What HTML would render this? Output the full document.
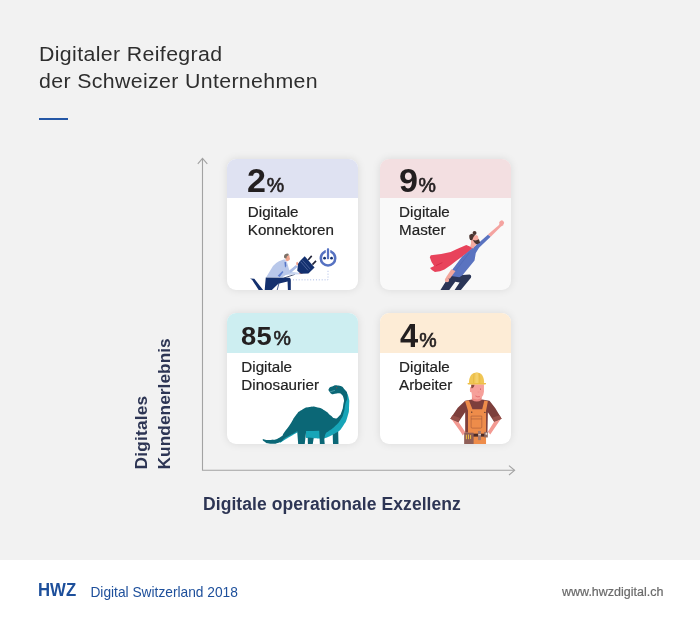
<!DOCTYPE html>
<html lang="de">
<head>
<meta charset="utf-8">
<title>Digitaler Reifegrad der Schweizer Unternehmen</title>
<style>
html,body{margin:0;padding:0;}
body{width:700px;height:629px;overflow:hidden;background:#f2f2f2;font-family:"Liberation Sans",Arial,sans-serif;position:relative;color:#222;}
.abs{position:absolute;white-space:nowrap;}
.title{left:39px;top:39.55px;font-size:20.5px;line-height:27.5px;color:#2e2e2e;transform-origin:0 0;transform:scaleX(1.04);}
.rule{left:39px;top:118px;width:29px;height:2px;background:#2457a6;}
.card{position:absolute;width:131px;height:131px;border-radius:9px;background:#fff;box-shadow:0 0 8px rgba(0,0,0,0.1);overflow:hidden;}
.card .hd{position:absolute;left:0;top:0;right:0;height:39.5px;}
.card .num{position:absolute;top:3.95px;font-weight:bold;font-size:33px;line-height:36px;color:#231f20;white-space:nowrap;}
.card .num .d{display:inline-block;transform-origin:0 100%;transform:scaleX(1.033);}
.card .num .pc{display:inline-block;font-weight:normal;font-size:19.6px;margin-left:1.1px;-webkit-text-stroke:0.6px #231f20;transform-origin:0 100%;transform:scaleX(1.0);}
.card .lbl{position:absolute;top:44.6px;font-size:15.2px;line-height:18px;color:#222;-webkit-text-stroke:0.2px #222;white-space:nowrap;}
.card svg{position:absolute;left:0;top:0;}
.ylab{left:0;top:0;font-weight:bold;font-size:17.3px;line-height:20px;color:#2d3554;transform-origin:0 0;}
.xlab{left:203px;top:493px;font-weight:bold;font-size:17.5px;line-height:22px;color:#2d3554;letter-spacing:0.07px;}
.footer{left:0;top:560px;width:700px;height:69px;background:#fff;}
.hwz{left:37.9px;top:579.4px;font-weight:bold;font-size:18px;line-height:22px;color:#1d4f9b;transform-origin:0 50%;transform:scaleX(0.93);}
.ds{left:90.4px;top:583.8px;font-size:13.75px;line-height:18px;color:#1d4f9b;}
.url{left:562px;top:582.9px;font-size:12.5px;line-height:18px;color:#6a6a6a;-webkit-text-stroke:0.2px #6a6a6a;}
</style>
</head>
<body>
<div class="abs title"><span style="letter-spacing:0.35px">Digitaler Reifegrad</span><br><span style="letter-spacing:0.34px">der Schweizer Unternehmen</span></div>
<div class="abs rule"></div>

<svg class="abs" style="left:0;top:0" width="700" height="560" viewBox="0 0 700 560">
  <g fill="none" stroke="#a3a3a3" stroke-width="1.1">
    <path d="M202.5 158.6V470.3H514.2"/>
    <path d="M197.8 163.9L202.5 158.4L207.3 163.9"/>
    <path d="M509 465.6L514.6 470.3L509 475"/>
  </g>
</svg>

<div class="card" style="left:227.3px;top:158.6px;">
  <div class="hd" style="background:#dfe2f2"></div>
  <div class="num" style="left:19.9px"><span class="d">2</span><span class="pc">%</span></div>
  <div class="lbl" style="left:20.5px">Digitale<br>Konnektoren</div>
<!--ILL1-->
  <svg width="131" height="131" viewBox="227.3 158.6 131 131">
    <g transform="translate(245,245) scale(0.085714)">
      <!-- back foot -->
      <path d="M62 385L112 388L218 525L166 525L86 402Z" fill="#14306e"/>
      <!-- cable -->
      <path d="M585 338L455 382" stroke="#1b2a55" stroke-width="9" fill="none"/>
      <path d="M400 440L378 525" stroke="#14306e" stroke-width="9" fill="none"/>
      <!-- lower arm (far) -->
      <path d="M470 300L640 318L655 336L470 345Z" fill="#c9d6f0"/>
      <!-- torso -->
      <path d="M252 368L330 240Q360 205 400 185L462 163L492 190L512 262L522 292L598 233L617 250L535 322L480 345L440 372Z" fill="#b9c8ea"/>
      <!-- upper arm highlight -->
      <path d="M522 292L598 233L617 250L535 322Z" fill="#a9bbe4"/>
      <!-- shade under arm -->
      <path d="M385 355L440 298L452 310L408 368Z" fill="#5f7fd0"/>
      <!-- tie -->
      <path d="M464 195L480 193L486 240L470 262Z" fill="#5474c6"/>
      <!-- hands -->
      <ellipse cx="612" cy="212" rx="11" ry="22" fill="#f0a08c"/>
      <ellipse cx="655" cy="325" rx="22" ry="10" fill="#f0a08c"/>
      <!-- neck + face -->
      <path d="M478 128L520 113L524 140L530 160L522 170L502 186L476 176Z" fill="#f0a58e"/>
      <!-- hair -->
      <path d="M458 138Q455 105 485 97Q505 92 514 100L510 118L492 128L486 152L466 150Z" fill="#7d7268"/>
      <!-- pants -->
      <path d="M246 375L520 378Q538 382 538 402L538 525L504 525L500 422L392 446L312 525L233 525L240 440Z" fill="#14306e"/>
    </g>
    <g transform="translate(290,240) scale(0.085714)">
      <!-- prongs -->
      <path d="M215 228L257 181" stroke="#23253a" stroke-width="19" fill="none"/>
      <path d="M265 283L307 239" stroke="#23253a" stroke-width="19" fill="none"/>
      <!-- plug body -->
      <path d="M175 185L290 315L218 385L130 388L88 355L98 272L120 240Z" fill="#13306f"/>
      <path d="M128 248L214 350M150 232L236 332" stroke="#8c9bc9" stroke-width="5" fill="none"/>
      <!-- dotted path -->
      <path d="M447 355V460H38" stroke="#9fb1e2" stroke-width="11" stroke-dasharray="11 22.5" fill="none"/>
      <!-- power icon -->
      <circle cx="447" cy="208" r="84" fill="none" stroke="#5672c2" stroke-width="30"/>
      <rect x="421" y="90" width="52" height="70" fill="#fff"/>
      <rect x="434" y="92" width="26" height="127" rx="9" fill="#5672c2"/>
      <circle cx="407" cy="208" r="16" fill="#13306f"/>
      <circle cx="488" cy="208" r="16" fill="#13306f"/>
    </g>
  </svg>
<!--/ILL1-->
</div>

<div class="card" style="left:380.1px;top:158.6px;background:#f9f9f9">
  <div class="hd" style="background:#f3dfe1"></div>
  <div class="num" style="left:19px"><span class="d">9</span><span class="pc">%</span></div>
  <div class="lbl" style="left:19px">Digitale<br>Master</div>
<!--ILL2-->
  <svg width="131" height="131" viewBox="380.1 158.6 131 131">
    <g transform="translate(425,215) scale(0.12857)">
      <!-- cape -->
      <path d="M372 252L322 231Q250 262 200 284Q120 305 46 309L38 326Q48 365 72 394L40 410Q55 432 78 441Q120 435 152 420Q200 390 242 354L342 282Z" fill="#e8435b"/>
      <path d="M85 391L136 367" stroke="#c9213f" stroke-width="5" fill="none"/>
      <!-- pants -->
      <path d="M188 468L292 463L348 460Q365 465 358 484L276 585L228 585L270 522L236 517L186 585L118 585L166 508Z" fill="#2a3557"/>
      <!-- raised arm skin -->
      <path d="M490 148L574 76L588 52L610 54L610 76L592 86L512 166Z" fill="#f4a3a0"/>
      <rect x="580" y="40" width="34" height="34" rx="12" transform="rotate(-40 597 57)" fill="#f4a3a0"/>
      <!-- shirt -->
      <path d="M345 275L395 235L490 150L511 166L421 252L396 292L386 350L292 466L268 482L190 470L214 420L290 320Z" fill="#5a73c0"/>
      <path d="M346 290L238 432" stroke="#4660ae" stroke-width="3" fill="none"/>
      <!-- lower arm skin -->
      <path d="M206 418L238 432L194 492L162 484Z" fill="#f2a79c"/>
      <circle cx="172" cy="502" r="17" fill="#f2a79c"/>
      <!-- neck -->
      <path d="M362 205L390 225L378 258L352 246Z" fill="#f2a79c"/>
      <!-- face -->
      <path d="M370 162L400 152L412 160L420 196L390 240L364 236L358 200Z" fill="#f6aaa0"/>
      <!-- hair -->
      <circle cx="386" cy="137" r="15.5" fill="#4a3430"/>
      <path d="M345 162Q342 148 356 146Q364 138 376 146L390 152L378 168L368 194L352 192Q344 178 345 162Z" fill="#4a3430"/>
      <!-- beard -->
      <path d="M372 192L396 196L420 186L430 213L404 227Q384 214 372 192Z" fill="#4a3430"/>
    </g>
  </svg>
<!--/ILL2-->
</div>

<div class="card" style="left:227.3px;top:313.4px;">
  <div class="hd" style="background:#cdeef1"></div>
  <div class="num" style="left:13.9px;font-size:26px;top:4.2px"><span class="d" style="letter-spacing:0.4px;transform:scaleX(1.05)">85</span><span class="pc" style="margin-left:2.5px">%</span></div>
  <div class="lbl" style="left:14px">Digitale<br>Dinosaurier</div>
<!--ILL3-->
  <svg width="131" height="131" viewBox="227.3 313.4 131 131">
    <path d="M346.30 392.70C347.13 394.30 347.77 392.93 348.80 397.50C349.83 402.07 349.77 399.77 349.40 406.40C349.03 413.03 349.83 410.57 347.70 417.40C345.57 424.23 346.13 421.90 343.00 426.90C339.87 431.90 339.87 430.57 338.30 432.40C336.53 433.33 337.43 433.13 333.00 435.20C328.57 437.27 329.33 437.40 325.00 438.60C320.67 439.80 323.67 438.77 320.00 438.80C316.33 438.83 318.00 438.87 314.00 438.70C310.00 438.53 310.67 438.67 308.00 438.30C305.33 437.93 306.67 437.83 306.00 437.60C306.17 435.07 306.33 432.53 306.50 430.00C311.00 429.33 315.50 428.67 320.00 428.00C325.00 427.00 330.00 426.00 335.00 425.00C336.83 423.00 338.67 421.00 340.50 419.00C341.50 416.67 342.50 414.33 343.50 412.00C343.93 409.33 344.37 406.67 344.80 404.00C345.30 400.23 345.80 396.47 346.30 392.70Z" fill="#17a5b8"/>
    <path d="M298.00 431.00C295.67 432.33 295.33 432.50 291.00 435.00C286.67 437.50 288.67 436.33 285.00 438.50C281.33 440.67 281.67 440.50 280.00 441.50C280.10 442.13 280.20 442.77 280.30 443.40C282.03 442.23 281.77 442.27 285.50 439.90C289.23 437.53 287.33 438.73 291.50 436.30C295.67 433.87 295.83 433.83 298.00 432.60C298.00 432.07 298.00 431.53 298.00 431.00Z" fill="#17a5b8"/>
    <path d="M308.00 438.00C308.07 440.27 308.13 442.53 308.20 444.80C309.80 444.80 311.40 444.80 313.00 444.80C313.33 442.70 313.67 440.60 314.00 438.50C312.00 438.33 310.00 438.17 308.00 438.00Z" fill="#0b6776"/>
    <path d="M333.00 435.00C333.10 438.27 333.20 441.53 333.30 444.80C335.13 444.80 336.97 444.80 338.80 444.80C338.70 440.53 338.60 436.27 338.50 432.00C336.67 433.00 334.83 434.00 333.00 435.00Z" fill="#0b6776"/>
    <path d="M263.00 439.30C265.57 439.63 265.00 440.77 270.70 440.30C276.40 439.83 275.33 440.60 280.10 437.90C284.87 435.20 281.37 436.83 285.00 432.20C288.63 427.57 287.33 429.40 291.00 424.00C294.67 418.60 292.33 420.50 296.00 416.00C299.67 411.50 297.33 413.33 302.00 410.50C306.67 407.67 304.67 408.33 310.00 407.50C315.33 406.67 313.00 406.83 318.00 408.00C323.00 409.17 320.67 408.33 325.00 411.00C329.33 413.67 327.67 413.47 331.00 416.00C334.33 418.53 332.33 418.27 335.00 418.60C337.67 418.93 336.67 419.20 339.00 417.00C341.33 414.80 340.47 416.00 342.00 412.00C343.53 408.00 342.97 409.47 343.60 405.00C344.23 400.53 344.77 402.30 343.90 398.60C343.03 394.90 341.97 395.47 341.00 393.90C339.67 393.87 339.90 393.53 337.00 393.80C334.10 394.07 333.87 394.40 332.30 394.70C331.47 393.87 330.83 394.03 329.80 392.20C328.77 390.37 328.30 391.00 329.20 389.20C330.10 387.40 329.37 387.87 332.50 386.80C335.63 385.73 334.47 385.00 338.60 386.00C342.73 387.00 341.90 386.30 344.90 389.80C347.90 393.30 347.37 391.43 347.60 396.50C347.83 401.57 346.80 399.50 345.60 405.00C344.40 410.50 345.53 408.00 344.00 413.00C342.47 418.00 344.00 415.33 341.00 420.00C338.00 424.67 339.00 423.17 335.00 427.00C331.00 430.83 331.00 430.00 329.00 431.50C327.77 433.00 326.63 431.57 325.30 436.00C323.97 440.43 325.10 441.87 325.00 444.80C323.40 444.80 321.80 444.80 320.20 444.80C319.97 440.27 319.73 435.73 319.50 431.20C315.17 431.30 310.83 431.40 306.50 431.50C306.00 435.93 305.50 440.37 305.00 444.80C302.83 444.80 300.67 444.80 298.50 444.80C298.17 440.40 297.83 436.00 297.50 431.60C295.33 432.90 295.17 433.03 291.00 435.50C286.83 437.97 288.63 436.63 285.00 439.00C281.37 441.37 284.87 440.90 280.10 442.60C275.33 444.30 275.87 444.33 270.70 444.10C265.53 443.87 267.17 443.50 264.60 441.90C262.03 440.30 263.53 440.17 263.00 439.30Z" fill="#0b6776"/>
    <circle cx="337" cy="388.1" r="0.55" fill="#c0392b"/>
    <path d="M330.4 392.3L335.3 390.7" stroke="#8fd0d8" stroke-width="0.45" fill="none"/>
  </svg>
<!--/ILL3-->
</div>

<div class="card" style="left:380.1px;top:313.4px;">
  <div class="hd" style="background:#fdecd6"></div>
  <div class="num" style="left:19.7px;top:4.25px"><span class="d" style="transform:scaleX(0.99)">4</span><span class="pc">%</span></div>
  <div class="lbl" style="left:19px">Digitale<br>Arbeiter</div>
<!--ILL4-->
  <svg width="131" height="131" viewBox="380.1 313.4 131 131">
    <g transform="translate(445,365) scale(0.13514)">
      <!-- arms skin -->
      <path d="M48 402L102 426L152 500L132 524L118 500Z" fill="#f39a92"/>
      <path d="M416 398L364 422L318 496L336 518L348 498Z" fill="#f39a92"/>
      <!-- shirt -->
      <path d="M150 268L200 258L275 258L330 268L372 322L420 400L364 422L318 352L315 505L150 505L150 352L100 426L40 400L95 320Z" fill="#7d3f3c"/>
      <path d="M40 400L56 374L112 396L100 426Z" fill="#96504a"/>
      <path d="M420 400L404 374L350 394L364 422Z" fill="#96504a"/>
      <!-- neck -->
      <path d="M200 225H272V262Q236 285 200 262Z" fill="#e98680"/>
      <!-- face -->
      <path d="M195 146H289V200Q287 225 274 240Q258 257 240 258L204 250L196 205L186 203Q182 180 188 166L195 166Z" fill="#f6a09a"/>
      <path d="M195 149H219L214 166L200 176L195 172Z" fill="#8a4a3f"/>
      <ellipse cx="263" cy="181" rx="3.5" ry="5" fill="#b8404a"/>
      <path d="M243 203H255" stroke="#ea8486" stroke-width="4" fill="none"/>
      <path d="M226 232Q242 242 259 237" stroke="#d9565c" stroke-width="5" fill="none"/>
      <!-- overalls -->
      <path d="M149 270L178 266L204 330H276L292 266L318 272L304.5 342V600H171V342Z" fill="#ee8c4a"/>
      <path d="M194 381H273V462Q273 470 265 470H202Q194 470 194 462Z" fill="none" stroke="#8f4a35" stroke-width="3.5"/>
      <path d="M194 402H273" stroke="#8f4a35" stroke-width="3.5" fill="none"/>
      <circle cx="198.5" cy="352" r="5" fill="#4a2c28"/>
      <circle cx="296" cy="354" r="5" fill="#4a2c28"/>
      <!-- belt -->
      <rect x="205" y="511" width="92" height="22" fill="#4a2c28"/>
      <rect x="142.5" y="504" width="70" height="96" fill="#8f5f58"/>
      <path d="M159 519V552M174.5 517V552M190 521V550" stroke="#f0c040" stroke-width="7" fill="none"/>
      <rect x="245.5" y="491" width="21" height="68" fill="#a07a72"/>
      <rect x="247" y="514" width="20" height="9" fill="#d9cbc4"/>
      <rect x="291" y="498" width="26.5" height="41" fill="#8f6a62"/>
      <path d="M301 505H313V519H301Z" fill="#e6dcd6"/>
      <!-- helmet -->
      <path d="M178 140C176 88 200 59 236 59C270 59 292 88 290 140Z" fill="#f0c655"/>
      <path d="M168 137H304V142Q304 148 297 148H175Q168 148 168 142Z" fill="#eebf48"/>
      <path d="M216 63Q210 100 212 137M254 63Q260 100 258 137" stroke="#e2b23c" stroke-width="4" fill="none"/>
      <path d="M228 60Q224 100 226 137H246Q248 100 244 60Z" fill="#f4d06c"/>
    </g>
  </svg>
<!--/ILL4-->
</div>

<div class="abs ylab" style="transform:translate(131.3px,469.4px) rotate(-90deg);letter-spacing:0.2px">Digitales</div>
<div class="abs ylab" style="transform:translate(153.9px,469.4px) rotate(-90deg);letter-spacing:0.04px">Kundenerlebnis</div>
<div class="abs xlab">Digitale operationale Exzellenz</div>

<div class="abs footer"></div>
<div class="abs hwz">HWZ</div>
<div class="abs ds">Digital Switzerland 2018</div>
<div class="abs url">www.hwzdigital.ch</div>
</body>
</html>
